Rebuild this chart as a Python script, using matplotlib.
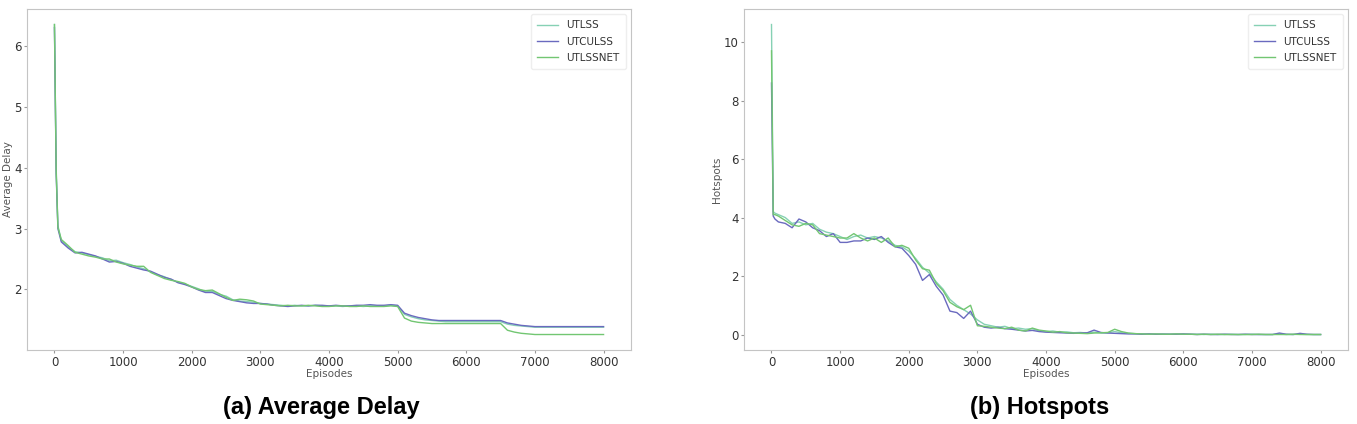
import matplotlib
matplotlib.use("Agg")
import matplotlib.pyplot as plt

# episodes sampled from the curves
episodes = [0, 25, 50, 100, 200, 300, 400, 500, 600, 700,
            800, 900, 1000, 1100, 1200, 1300, 1400, 1500, 1600, 1700,
            1800, 1900, 2000, 2100, 2200, 2300, 2400, 2500, 2600, 2700,
            2800, 2900, 3000, 3100, 3200, 3300, 3400, 3500, 3600, 3700,
            3800, 3900, 4000, 4100, 4200, 4300, 4400, 4500, 4600, 4700,
            4800, 4900, 5000, 5100, 5200, 5300, 5400, 5500, 5600, 5700,
            5800, 5900, 6000, 6100, 6200, 6300, 6400, 6500, 6600, 6700,
            6800, 6900, 7000, 7100, 7200, 7300, 7400, 7500, 7600, 7700,
            7800, 7900, 8000]

series_names = ["UTLSS", "UTCULSS", "UTLSSNET"]

# (a) average delay
delay_utlss = [6.35, 4.00, 3.05, 2.80, 2.70, 2.62, 2.60, 2.57, 2.54, 2.52,
               2.47, 2.48, 2.44, 2.41, 2.37, 2.34, 2.29, 2.24, 2.21, 2.16,
               2.12, 2.09, 2.05, 2.01, 1.96, 1.97, 1.92, 1.89, 1.83, 1.81,
               1.80, 1.79, 1.77, 1.76, 1.75, 1.74, 1.73, 1.74, 1.73, 1.73,
               1.74, 1.73, 1.73, 1.73, 1.72, 1.73, 1.73, 1.72, 1.73, 1.73,
               1.73, 1.74, 1.73, 1.59, 1.55, 1.52, 1.50, 1.49, 1.48, 1.47,
               1.47, 1.47, 1.47, 1.47, 1.47, 1.47, 1.47, 1.47, 1.43, 1.41,
               1.40, 1.39, 1.38, 1.38, 1.38, 1.38, 1.38, 1.38, 1.38, 1.38,
               1.38, 1.38, 1.38]
delay_utculss = [6.30, 3.90, 3.00, 2.78, 2.68, 2.60, 2.61, 2.58, 2.55, 2.50,
                 2.45, 2.46, 2.43, 2.38, 2.35, 2.32, 2.30, 2.25, 2.20, 2.17,
                 2.11, 2.08, 2.04, 1.99, 1.95, 1.95, 1.90, 1.85, 1.82, 1.80,
                 1.78, 1.77, 1.77, 1.76, 1.74, 1.73, 1.72, 1.73, 1.74, 1.73,
                 1.74, 1.74, 1.73, 1.74, 1.73, 1.73, 1.74, 1.74, 1.75, 1.74,
                 1.74, 1.75, 1.74, 1.61, 1.57, 1.54, 1.52, 1.50, 1.49, 1.49,
                 1.49, 1.49, 1.49, 1.49, 1.49, 1.49, 1.49, 1.49, 1.45, 1.43,
                 1.41, 1.40, 1.39, 1.39, 1.39, 1.39, 1.39, 1.39, 1.39, 1.39,
                 1.39, 1.39, 1.39]
delay_utlssnet = [6.35, 3.95, 3.02, 2.82, 2.72, 2.61, 2.58, 2.55, 2.53, 2.50,
                  2.50, 2.45, 2.42, 2.40, 2.38, 2.38, 2.28, 2.23, 2.18, 2.15,
                  2.13, 2.10, 2.04, 2.00, 1.98, 1.99, 1.93, 1.87, 1.82, 1.84,
                  1.83, 1.81, 1.76, 1.75, 1.74, 1.73, 1.74, 1.73, 1.73, 1.74,
                  1.73, 1.72, 1.72, 1.73, 1.73, 1.72, 1.72, 1.73, 1.72, 1.72,
                  1.72, 1.73, 1.72, 1.53, 1.48, 1.46, 1.45, 1.44, 1.44, 1.44,
                  1.44, 1.44, 1.44, 1.44, 1.44, 1.44, 1.44, 1.44, 1.33, 1.30,
                  1.28, 1.27, 1.26, 1.26, 1.26, 1.26, 1.26, 1.26, 1.26, 1.26,
                  1.26, 1.26, 1.26]

# (b) hotspots
hot_utlss = [10.6, 4.20, 4.15, 4.10, 4.00, 3.80, 3.85, 3.75, 3.80, 3.60,
             3.50, 3.45, 3.35, 3.25, 3.35, 3.40, 3.30, 3.35, 3.30, 3.20,
             3.05, 3.00, 2.85, 2.60, 2.30, 2.10, 1.80, 1.55, 1.20, 1.00,
             0.85, 0.70, 0.50, 0.35, 0.30, 0.25, 0.28, 0.20, 0.22, 0.18,
             0.20, 0.12, 0.10, 0.12, 0.08, 0.09, 0.06, 0.07, 0.05, 0.08,
             0.05, 0.06, 0.10, 0.06, 0.04, 0.03, 0.02, 0.02, 0.01, 0.02,
             0.01, 0.02, 0.01, 0.01, 0.01, 0.00, 0.01, 0.00, 0.00, 0.01,
             0.00, 0.00, 0.01, 0.00, 0.00, 0.00, 0.02, 0.00, 0.00, 0.01,
             0.00, 0.00, 0.00]
hot_utculss = [8.60, 4.05, 3.95, 3.85, 3.80, 3.65, 3.95, 3.85, 3.65, 3.55,
               3.35, 3.45, 3.15, 3.15, 3.20, 3.20, 3.30, 3.25, 3.35, 3.15,
               3.00, 2.95, 2.70, 2.40, 1.85, 2.05, 1.65, 1.35, 0.80, 0.75,
               0.55, 0.80, 0.35, 0.25, 0.22, 0.25, 0.20, 0.18, 0.15, 0.12,
               0.14, 0.10, 0.08, 0.07, 0.06, 0.05, 0.04, 0.05, 0.06, 0.15,
               0.07, 0.05, 0.04, 0.03, 0.02, 0.02, 0.01, 0.02, 0.01, 0.01,
               0.01, 0.01, 0.02, 0.01, 0.00, 0.01, 0.00, 0.00, 0.01, 0.00,
               0.00, 0.01, 0.00, 0.00, 0.00, 0.00, 0.05, 0.01, 0.00, 0.04,
               0.01, 0.00, 0.00]
hot_utlssnet = [9.70, 4.10, 4.10, 4.05, 3.90, 3.75, 3.70, 3.80, 3.75, 3.45,
                3.40, 3.35, 3.30, 3.30, 3.45, 3.30, 3.20, 3.30, 3.15, 3.30,
                3.00, 3.05, 2.95, 2.55, 2.25, 2.20, 1.75, 1.50, 1.10, 0.95,
                0.85, 1.00, 0.30, 0.28, 0.25, 0.22, 0.20, 0.25, 0.15, 0.12,
                0.22, 0.15, 0.12, 0.08, 0.10, 0.06, 0.05, 0.04, 0.03, 0.05,
                0.06, 0.07, 0.18, 0.10, 0.05, 0.03, 0.02, 0.01, 0.02, 0.01,
                0.01, 0.02, 0.01, 0.01, 0.00, 0.01, 0.00, 0.01, 0.00, 0.00,
                0.00, 0.00, 0.00, 0.01, 0.00, 0.00, 0.00, 0.00, 0.01, 0.00,
                0.00, 0.00, 0.00]

colors = ["#86d1b4", "#6a6abf", "#72c672"]

fig = plt.figure(figsize=(13.57, 4.24), dpi=100)
ax_a = fig.add_axes([0.0199, 0.1745, 0.4451, 0.8042])
ax_b = fig.add_axes([0.5483, 0.1745, 0.4451, 0.8042])

panels = [
    (ax_a, [delay_utlss, delay_utculss, delay_utlssnet], "Average Delay", "(a) Average Delay", 321),
    (ax_b, [hot_utlss, hot_utculss, hot_utlssnet], "Hotspots", "(b) Hotspots", 1040),
]

for ax, data, ylab, title, title_x in panels:
    for name, vals, c in zip(series_names, data, colors):
        ax.plot(episodes, vals, color=c, lw=1.0, label=name)
    ax.set_xlabel("Episodes", fontsize=7.5, color="#555555", labelpad=0)
    ax.set_ylabel(ylab, fontsize=7.5, color="#555555", labelpad=1)
    ax.set_xticks([0, 1000, 2000, 3000, 4000, 5000, 6000, 7000, 8000])
    ax.tick_params(labelsize=8.5, colors="#999999", labelcolor="#333333",
                   length=2, pad=2)
    for s in ax.spines.values():
        s.set_color("#c4c4c4")
    leg = ax.legend(loc="upper right", fontsize=7.5, framealpha=1.0,
                    edgecolor="#eeeeee", handlelength=2.0, borderpad=0.6,
                    labelspacing=0.6)
    for t in leg.get_texts():
        t.set_color("#333333")
    fig.text(title_x / 1357, 0.04, title, ha="center", va="center",
             fontsize=17, fontweight="bold", family=["Liberation Sans", "DejaVu Sans"])

ax_b.set_yticks([0, 2, 4, 6, 8, 10])

fig.savefig("out.png", dpi=100)
